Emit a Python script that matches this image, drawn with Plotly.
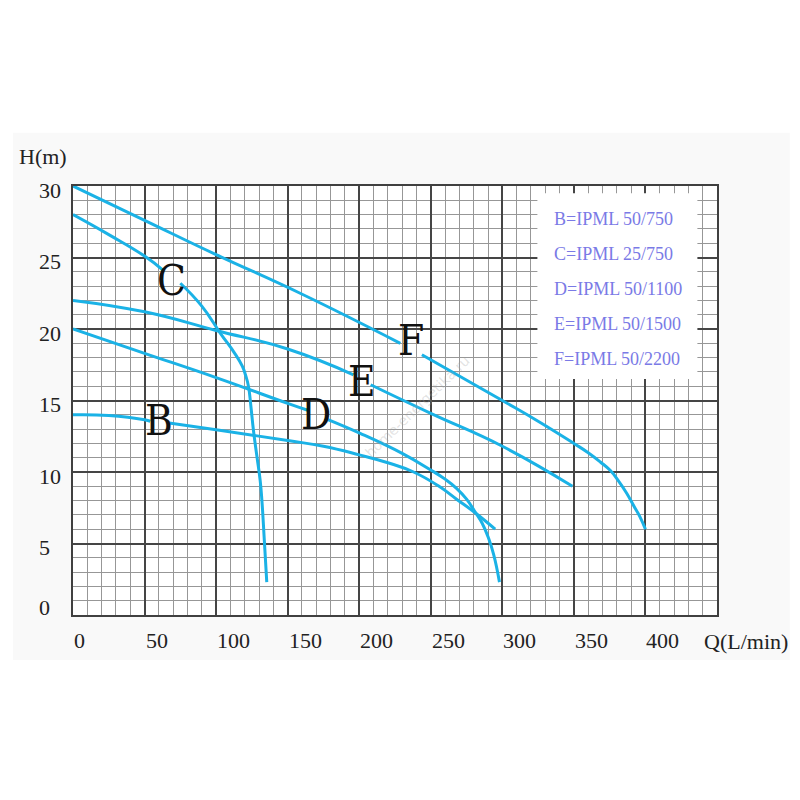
import plotly.graph_objects as go

# pump curves: Q in L/min, H in m (None = gap under the letter label)
q_b = [0, 25, 50, 54, None, 66, 100, 150, 175, 200, 220, 238, 255, 268, 281, 295]
h_b = [14.0, 13.95, 13.65, 13.55, None, 13.45, 12.95, 12.2, 11.8, 11.2, 10.65, 10.0, 9.05, 8.1, 7.15, 6.0]

q_c = [0, 25, 50, 63, None, 75, 90, 103, 113, 118.3, 120.5, 122.6, 124.3, 126.1, 128.5, 130.8, 132, 133.7, 135.4]
h_c = [28.0, 26.6, 25.1, 24.1, None, 23.2, 21.6, 19.7, 18.3, 17.4, 16.8, 16.0, 14.6, 12.9, 11.1, 9.4, 8.0, 5.2, 2.3]

q_d = [0, 50, 100, 150, 164.6, None, 176, 200.7, 230, 250, 260, 268, 275, 281, 286, 290.4, 294, 298]
h_d = [20.0, 18.3, 16.6, 14.8, 14.3, None, 13.75, 12.7, 11.3, 10.14, 9.5, 8.86, 8.1, 7.2, 6.4, 5.36, 4.2, 2.3]

q_e = [0, 50, 100, 150, 196, None, 208, 250, 300, 349]
h_e = [22.0, 21.2, 19.9, 18.6, 16.8, None, 16.1, 14.1, 11.8, 9.0]

q_f = [0, 50, 100, 158.7, 228.7, None, 243.8, 300, 325, 350, 360, 368.5, 375.5, 381, 387, 392, 396, 400]
h_f = [30.0, 27.6, 25.2, 22.5, 19.0, None, 18.2, 15.0, 13.55, 12.0, 11.35, 10.7, 10.1, 9.4, 8.5, 7.6, 6.9, 6.0]

# curve letters and where they sit on the chart
curve_letters = ['B', 'C', 'D', 'E', 'F']
letter_q = [60, 69, 170, 202, 236]
letter_h = [13.6, 23.4, 14.0, 16.3, 19.2]

legend_lines = ['B=IPML 50/750', 'C=IPML 25/750', 'D=IPML 50/1100',
                'E=IPML 50/1500', 'F=IPML 50/2200']

x_ticks = [0, 50, 100, 150, 200, 250, 300, 350, 400]
y_ticks = [0, 5, 10, 15, 20, 25, 30]

curve_color = '#1ab2e6'
font_name = 'Liberation Serif'

fig = go.Figure()
for qs, hs in [(q_b, h_b), (q_c, h_c), (q_d, h_d), (q_e, h_e), (q_f, h_f)]:
    fig.add_trace(go.Scatter(x=qs, y=hs, mode='lines',
                             line=dict(color=curve_color, width=3, shape='spline', smoothing=1.3),
                             showlegend=False, hoverinfo='skip'))

notes = []
for q in x_ticks:
    notes.append(dict(x=q, y=0, xref='x', yref='y', text=str(q), showarrow=False,
                      xanchor='left', yanchor='top', xshift=-1, yshift=-11,
                      font=dict(family=font_name, size=22, color='#222')))
for h in y_ticks:
    notes.append(dict(x=-0.056, y=h, xref='paper', yref='y', text=str(h), showarrow=False,
                      xanchor='left', yanchor='middle', yshift=8 if h == 0 else -4,
                      font=dict(family=font_name, size=22, color='#222')))
for letter, q, h in zip(curve_letters, letter_q, letter_h):
    notes.append(dict(x=q, y=h, xref='x', yref='y', text=letter, showarrow=False,
                      xanchor='center', yanchor='middle',
                      font=dict(family='DejaVu Serif Condensed, Liberation Serif', size=42, color='#111')))
for i, txt in enumerate(legend_lines):
    notes.append(dict(x=0.744, y=0.923 - i * 0.0816, xref='paper', yref='paper', text=txt,
                      showarrow=False, xanchor='left', yanchor='middle',
                      font=dict(family=font_name, size=18, color='#7a7ae6')))
notes.append(dict(x=-0.047, y=1.068, xref='paper', yref='paper', text='H(m)', showarrow=False,
                  xanchor='center', yanchor='middle',
                  font=dict(family=font_name, size=22, color='#222')))
notes.append(dict(x=0.977, y=-0.061, xref='paper', yref='paper', text='Q(L/min)', showarrow=False,
                  xanchor='left', yanchor='middle',
                  font=dict(family=font_name, size=22, color='#222')))
notes.append(dict(x=241, y=14.6, xref='x', yref='y', text='home-energetika.ru', showarrow=False,
                  xanchor='center', yanchor='middle', textangle=-44,
                  font=dict(family='DejaVu Sans', size=14, color='rgba(160,160,160,0.3)')))

# page body has an 8px margin, so the figure is 784 wide/high to fill the 800px window
fig.update_layout(
    width=784, height=784,
    margin=dict(l=65, r=75, t=178, b=177),
    paper_bgcolor='white', plot_bgcolor='white',
    annotations=notes,
    shapes=[
        dict(type='rect', xref='paper', yref='paper', x0=-0.093, x1=1.113, y0=-0.105, y1=1.124,
             fillcolor='#f9f9f9', line=dict(width=0), layer='below'),
        dict(type='rect', xref='paper', yref='paper', x0=0, x1=1, y0=0, y1=1,
             fillcolor='white', line=dict(width=0), layer='below'),
        dict(type='rect', xref='x', yref='y', x0=324.5, x1=436.3, y0=16.5, y1=29.5,
             fillcolor='white', line=dict(width=0), layer='between'),
    ],
)
fig.update_xaxes(range=[0, 450], dtick=50, showgrid=True, gridcolor='#454545', gridwidth=1.5,
                 minor=dict(dtick=10, showgrid=True, gridcolor='#979797', gridwidth=1),
                 showticklabels=False, ticks='', zeroline=False,
                 showline=True, mirror=True, linecolor='#404040', linewidth=1.5)
fig.update_yaxes(range=[0, 30], dtick=5, showgrid=True, gridcolor='#454545', gridwidth=1.5,
                 minor=dict(dtick=1, showgrid=True, gridcolor='#979797', gridwidth=1),
                 showticklabels=False, ticks='', zeroline=False,
                 showline=True, mirror=True, linecolor='#404040', linewidth=1.5)

fig.write_html('out.html')
